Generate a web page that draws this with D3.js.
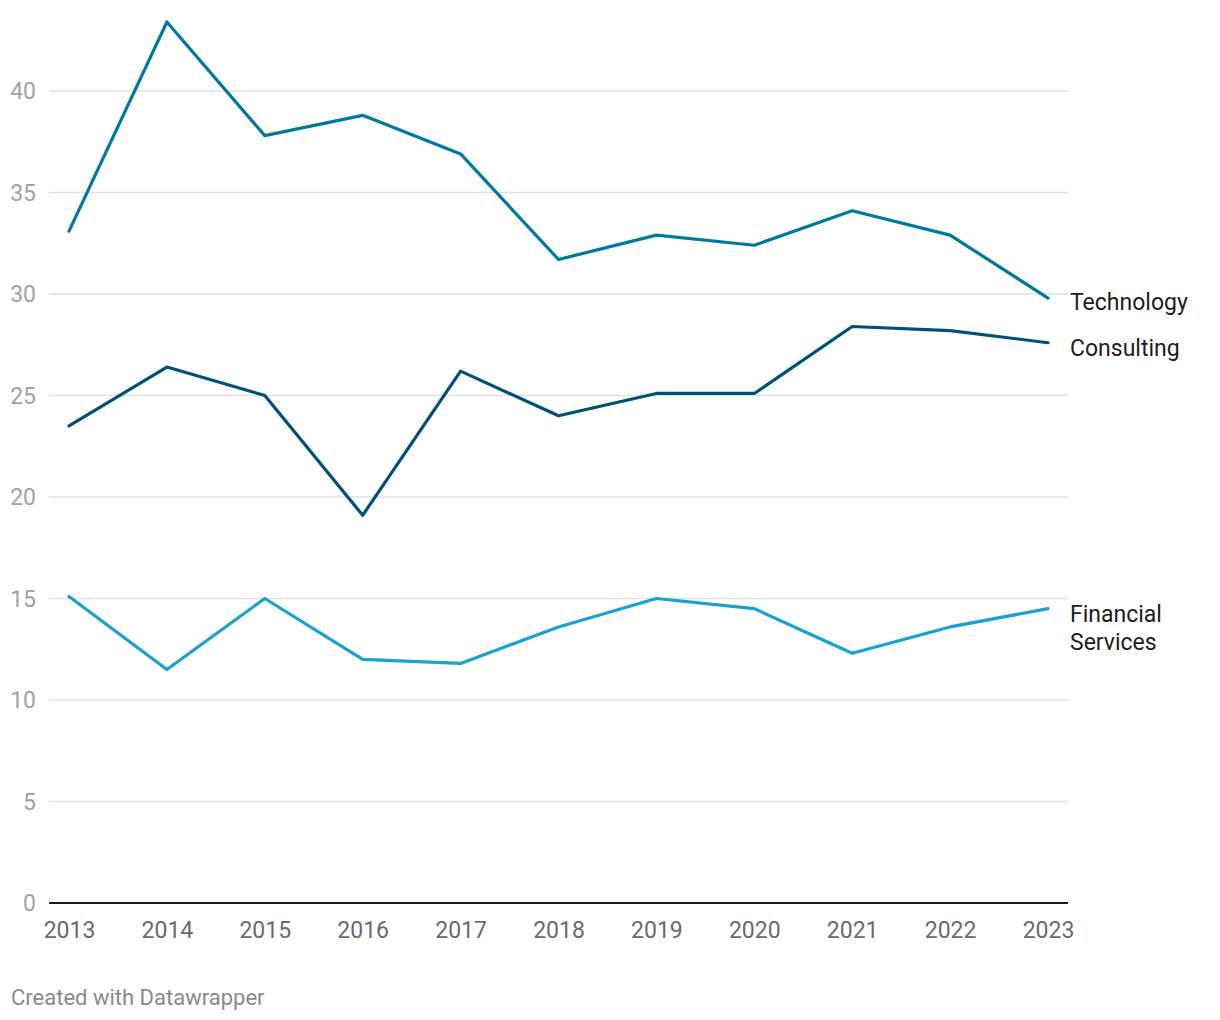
<!DOCTYPE html>
<html><head><meta charset="utf-8">
<script src="https://cdn.jsdelivr.net/npm/d3@7"></script>
<style>
body{margin:0;background:#fff;}
text{font-family:Roboto,"Noto Sans",sans-serif;}
</style></head>
<body><svg id="c" width="1220" height="1020"></svg>
<script>
const years = [2013,2014,2015,2016,2017,2018,2019,2020,2021,2022,2023];
const technology = [33.1,43.4,37.8,38.8,36.9,31.7,32.9,32.4,34.1,32.9,29.8];
const consulting = [23.5,26.4,25.0,19.1,26.2,24.0,25.1,25.1,28.4,28.2,27.6];
const financial = [15.1,11.5,15.0,12.0,11.8,13.6,15.0,14.5,12.3,13.6,14.5];
const yTicks = [0,5,10,15,20,25,30,35,40];
const seriesNames = ["Technology","Consulting","Financial Services"];
const seriesColors = ["#0079a1","#005177","#1aa1cf"];

const svg = d3.select("#c");
const x = d3.scaleLinear().domain([2013,2023]).range([69,1048]);
const y = d3.scaleLinear().domain([0,40]).range([903,91]);

svg.append("g").selectAll("line").data(yTicks.filter(d=>d>0)).join("line")
  .attr("x1",49).attr("x2",1068).attr("y1",d=>y(d)).attr("y2",d=>y(d))
  .attr("stroke","#e2e2e2").attr("stroke-width",1.5);
svg.append("g").selectAll("text").data(yTicks).join("text")
  .attr("x",36).attr("y",d=>y(d)+8).attr("text-anchor","end")
  .attr("font-size",23).attr("fill","#a2a2a2").text(d=>d);
svg.append("line").attr("x1",49).attr("x2",1068).attr("y1",y(0)).attr("y2",y(0))
  .attr("stroke","#1a1a1a").attr("stroke-width",2);
const xa = d3.axisBottom(x).tickValues(years).tickFormat(d3.format("d")).tickSize(0).tickPadding(0);
const gx = svg.append("g").attr("transform",`translate(0,${y(0)})`).call(xa);
gx.select(".domain").remove();
gx.selectAll("text").attr("font-size",23).attr("fill","#6b6b6b").attr("dy",null).attr("y",35)
  .style("font-family","Roboto");

const data = [technology,consulting,financial];
const line = d3.line().x((d,i)=>x(years[i])).y(d=>y(d));
svg.append("g").selectAll("path").data(data).join("path")
  .attr("d",line).attr("fill","none").attr("stroke",(d,i)=>seriesColors[i])
  .attr("stroke-width",3.2).attr("stroke-linejoin","round").attr("stroke-linecap","round");

const lab = svg.append("g");
lab.append("text").attr("x",1070).attr("y",y(technology[10])+12).attr("font-size",23).attr("fill","#1d1d1d").text(seriesNames[0]);
lab.append("text").attr("x",1070).attr("y",y(consulting[10])+13).attr("font-size",23).attr("fill","#1d1d1d").text(seriesNames[1]);
const fs = lab.append("text").attr("x",1070).attr("y",y(financial[10])+13).attr("font-size",23).attr("fill","#1d1d1d");
fs.append("tspan").attr("x",1070).text("Financial");
fs.append("tspan").attr("x",1070).attr("dy",28).text("Services");

svg.append("text").attr("x",11).attr("y",1005).attr("font-size",22).attr("fill","#8a8a8a").text("Created with Datawrapper");
</script></body></html>
